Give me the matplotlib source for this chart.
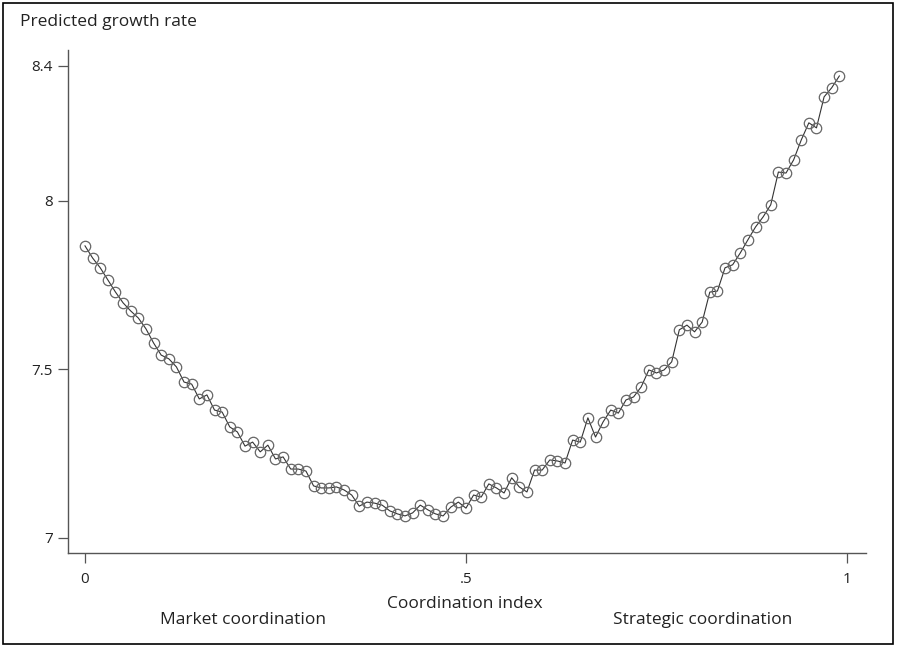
import matplotlib.pyplot as plt
from matplotlib.patches import Rectangle
import numpy as np

# coordination index 0 .. 0.99 in steps of 0.01
coord_index = np.arange(100) / 100

# predicted growth rate
growth = [
    7.866, 7.830, 7.801, 7.765, 7.729, 7.697, 7.673, 7.652, 7.620, 7.578,
    7.542, 7.531, 7.507, 7.462, 7.456, 7.412, 7.424, 7.379, 7.373, 7.329,
    7.314, 7.272, 7.284, 7.255, 7.275, 7.234, 7.240, 7.204, 7.204, 7.198,
    7.154, 7.148, 7.148, 7.151, 7.142, 7.127, 7.094, 7.106, 7.103, 7.097,
    7.080, 7.071, 7.065, 7.074, 7.097, 7.083, 7.071, 7.065, 7.091, 7.106,
    7.088, 7.127, 7.121, 7.160, 7.148, 7.133, 7.178, 7.151, 7.136, 7.201,
    7.201, 7.231, 7.228, 7.222, 7.290, 7.284, 7.356, 7.299, 7.344, 7.379,
    7.370, 7.409, 7.418, 7.448, 7.498, 7.489, 7.498, 7.522, 7.617, 7.631,
    7.611, 7.640, 7.729, 7.732, 7.801, 7.810, 7.845, 7.884, 7.922, 7.952,
    7.988, 8.085, 8.082, 8.121, 8.180, 8.231, 8.216, 8.308, 8.335, 8.370,
]

x_ticks = [0, 0.5, 1]
x_ticklabels = ["0", ".5", "1"]
y_ticks = [7, 7.5, 8, 8.4]
y_ticklabels = ["7", "7.5", "8", "8.4"]

plt.rcParams['font.family'] = ['Open Sans', 'DejaVu Sans']

W, H = 897, 646
fig = plt.figure(figsize=(W / 100, H / 100), dpi=100)

# axes box in pixels: left 68, right 866, top 50, bottom 553
ax = fig.add_axes([68 / W, 1 - 553 / H, (866 - 68) / W, (553 - 50) / H])

ax.plot(coord_index, growth, color='#333333', linewidth=0.8,
        marker='o', markersize=7.5, markerfacecolor='none',
        markeredgecolor='#666666', markeredgewidth=0.9)

ax.set_xlim(-0.0223, 1.025)
ax.set_ylim(6.955, 8.447)

ax.set_xticks(x_ticks)
ax.set_xticklabels(x_ticklabels)
ax.set_yticks(y_ticks)
ax.set_yticklabels(y_ticklabels)
ax.tick_params(axis='both', direction='out', length=7, width=0.9,
               color='#555555', labelsize=11, labelcolor='#222222', pad=4)
ax.tick_params(axis='x', pad=7)

for side in ['top', 'right']:
    ax.spines[side].set_visible(False)
for side in ['left', 'bottom']:
    ax.spines[side].set_color('#555555')
    ax.spines[side].set_linewidth(1.0)

# titles placed like the original
fig.text(20 / W, 1 - 22 / H, "Predicted growth rate", fontsize=12.5,
         color='#222222', ha='left', va='center')
fig.text(465 / W, 1 - 604 / H, "Coordination index", fontsize=12.5,
         color='#222222', ha='center', va='center')
fig.text(243 / W, 1 - 620 / H, "Market coordination", fontsize=12.5,
         color='#222222', ha='center', va='center')
fig.text(703 / W, 1 - 620 / H, "Strategic coordination", fontsize=12.5,
         color='#222222', ha='center', va='center')

# outer frame round the whole picture
fig.patches.append(Rectangle((3 / W, 2 / H), (W - 7) / W, (H - 5) / H,
                             transform=fig.transFigure, fill=False,
                             edgecolor='black', linewidth=1.2))

fig.savefig("out.png", dpi=100)
